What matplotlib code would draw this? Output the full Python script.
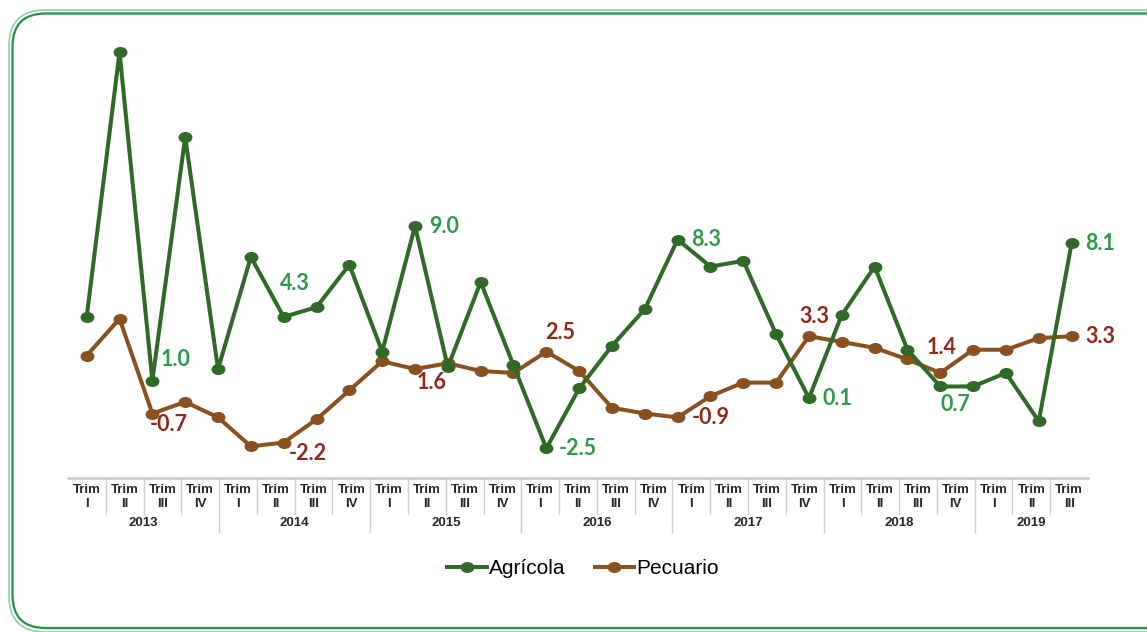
import matplotlib
matplotlib.use("Agg")
import matplotlib.pyplot as plt
from matplotlib.patches import FancyBboxPatch
from matplotlib.path import Path
from matplotlib.transforms import Affine2D, blended_transform_factory
import numpy as np

# DATA
agricola = [4.3, 18.0, 1.0, 13.6, 1.6, 7.4, 4.3, 4.8, 7.0, 2.5,
            9.0, 1.7, 6.1, 1.8, -2.5, 0.6, 2.8, 4.7, 8.3, 6.9,
            7.2, 3.4, 0.1, 4.4, 6.9, 2.6, 0.7, 0.7, 1.4, -1.1, 8.1]
pecuario = [2.3, 4.2, -0.7, -0.1, -0.9, -2.4, -2.2, -1.0, 0.5, 2.0,
            1.6, 1.9, 1.5, 1.4, 2.5, 1.5, -0.4, -0.7, -0.9, 0.2,
            0.9, 0.9, 3.3, 3.0, 2.7, 2.1, 1.4, 2.6, 2.6, 3.2, 3.3]
trimestres = ["I", "II", "III", "IV"] * 6 + ["I", "II", "III"]
anios = ["2013", "2014", "2015", "2016", "2017", "2018", "2019"]

# labelled points: index -> (dx, dy) offsets in points
agri_labels = {2: (6, 15), 6: (-3, 24), 10: (10, 0), 14: (9, 0),
               18: (10, 0), 22: (10, 0), 26: (0, -13), 30: (10, 0)}
pec_labels = {2: (-2, -8), 6: (4, -8), 10: (1, -10), 14: (-1, 14),
              18: (10, 0), 22: (-7, 14), 26: (-10, 18), 30: (10, 0)}

c_agri, c_pec = "#2f6a26", "#8a5120"
c_agri_txt, c_pec_txt = "#2e9a4a", "#8e2b1c"

# slightly wide dots, like the original
dot = Path.unit_circle().transformed(Affine2D().scale(1.3, 1.0))

W, H = 1147, 632
fig = plt.figure(figsize=(W / 100, H / 100), dpi=100)

# background canvas in pixel units (border + category table)
canvas = fig.add_axes([0, 0, 1, 1], zorder=0)
canvas.set_xlim(0, W)
canvas.set_ylim(H, 0)
canvas.axis("off")
canvas.add_patch(FancyBboxPatch((9, 10), 1180, 622, boxstyle="round,pad=0,rounding_size=36",
                                fill=False, ec="#9fd0a8", lw=1.3, clip_on=False))
canvas.add_patch(FancyBboxPatch((12.5, 13.5), 1180, 614.5, boxstyle="round,pad=0,rounding_size=33",
                                fill=False, ec="#1f9246", lw=1.6, clip_on=False))

left, right, top, bottom = 68, 1088, 30, 478
ax = fig.add_axes([left / W, 1 - bottom / H, (right - left) / W, (bottom - top) / H], zorder=2)
ax.patch.set_alpha(0)
x = np.arange(len(agricola))
ax.plot(x, agricola, color=c_agri, lw=2.9, marker=dot, ms=9, label="Agrícola", zorder=3)
ax.plot(x, pecuario, color=c_pec, lw=2.9, marker=dot, ms=9, label="Pecuario", zorder=2)
ax.set_xlim(-0.57, 30.5)
ax.set_ylim(-4.035, 19.14)
for s in ax.spines.values():
    s.set_visible(False)
ax.set_xticks([])
ax.set_yticks([])

lab_font = dict(family="Lato", weight="bold", fontsize=15.5)
for i, (dx, dy) in agri_labels.items():
    ax.annotate(f"{agricola[i]:.1f}", (x[i], agricola[i]), xytext=(dx, dy),
                textcoords="offset points", ha="left", va="center", color=c_agri_txt, **lab_font)
for i, (dx, dy) in pec_labels.items():
    ax.annotate(f"{pecuario[i]:.1f}", (x[i], pecuario[i]), xytext=(dx, dy),
                textcoords="offset points", ha="left", va="center", color=c_pec_txt, **lab_font)

# category table under the axis
tr = blended_transform_factory(ax.transAxes, canvas.transData)
n = len(trimestres)
ax.plot([0, 1], [478, 478], transform=tr, color="#c8c8c8", lw=1.8, clip_on=False)
tbl_font = dict(family="Liberation Sans", weight="bold", fontsize=9.5, color="#262626")
for i, t in enumerate(trimestres):
    xc = (i + 0.5) / n
    ax.text(xc, 490, "Trim", transform=tr, ha="center", va="center", **tbl_font)
    ax.text(xc, 504, t, transform=tr, ha="center", va="center", **tbl_font)
    if i > 0:
        year_edge = i % 4 == 0
        ax.plot([i / n, i / n], [479, 532 if year_edge else 514], transform=tr,
                color="#d0d0d0", lw=1, clip_on=False)
for k, a in enumerate(anios):
    start = 4 * k
    stop = min(4 * k + 4, n)
    ax.text((start + stop) / 2 / n, 523, a, transform=tr, ha="center", va="center", **tbl_font)

ax.legend(loc="center", bbox_to_anchor=(583 / W, 1 - 569 / H), bbox_transform=fig.transFigure,
          ncol=2, frameon=False, handlelength=1.9, columnspacing=1.4, handletextpad=0.1,
          prop=dict(family="Liberation Sans", size=15))

fig.savefig("out.png", dpi=100)
